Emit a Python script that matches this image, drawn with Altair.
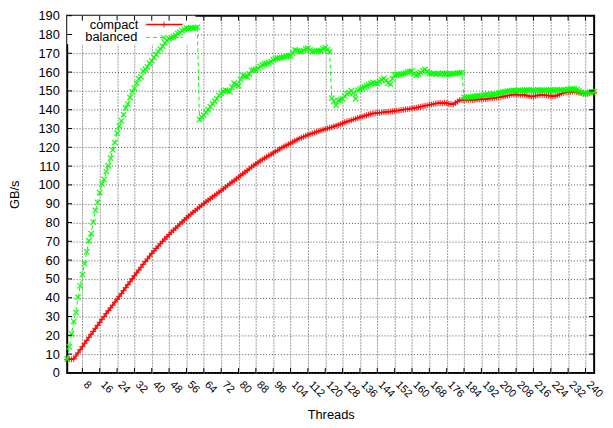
import altair as alt
import pandas as pd

# ---- data (GB/s per thread count, threads 1..244) ----
compact = [
    7.2, 7.3, 7.2, 7.4, 9.0, 10.7, 12.4, 14.0, 15.7, 17.3,
    18.9, 20.5, 22.1, 23.7, 25.3, 26.9, 28.5, 30.0, 31.6, 33.1,
    34.6, 36.1, 37.6, 39.1, 40.7, 42.2, 43.8, 45.4, 47.0, 48.5,
    50.1, 51.7, 53.2, 54.7, 56.2, 57.7, 59.2, 60.6, 62.1, 63.6,
    64.9, 66.2, 67.5, 68.7, 70.0, 71.2, 72.4, 73.6, 74.8, 75.9,
    77.0, 78.1, 79.2, 80.3, 81.4, 82.5, 83.5, 84.4, 85.4, 86.3,
    87.3, 88.2, 89.2, 90.1, 91.0, 91.9, 92.7, 93.6, 94.4, 95.3,
    96.1, 97.0, 97.9, 98.8, 99.7, 100.6, 101.5, 102.3, 103.2, 104.1,
    105.0, 105.9, 106.8, 107.7, 108.6, 109.5, 110.4, 111.2, 112.0, 112.8,
    113.5, 114.2, 114.9, 115.6, 116.3, 117.0, 117.7, 118.4, 119.1, 119.8,
    120.4, 121.0, 121.6, 122.2, 122.8, 123.4, 124.0, 124.6, 125.1, 125.6,
    126.1, 126.6, 127.0, 127.4, 127.8, 128.2, 128.6, 129.0, 129.3, 129.7,
    130.0, 130.4, 130.7, 131.1, 131.5, 131.9, 132.3, 132.8, 133.3, 133.7,
    134.0, 134.4, 134.8, 135.2, 135.6, 136.0, 136.3, 136.7, 137.0, 137.4,
    137.7, 138.0, 138.1, 138.3, 138.4, 138.5, 138.7, 138.8, 138.9, 139.0,
    139.2, 139.3, 139.5, 139.6, 139.8, 140.0, 140.2, 140.3, 140.5, 140.7,
    140.9, 141.1, 141.3, 141.6, 141.8, 142.1, 142.3, 142.6, 142.8, 143.1,
    143.3, 143.5, 143.6, 143.4, 143.7, 143.5, 143.2, 143.0, 142.8, 143.6,
    144.4, 145.1, 145.2, 145.0, 145.3, 145.1, 145.4, 145.2, 145.3, 145.5,
    145.4, 145.6, 145.7, 145.6, 145.8, 146.0, 146.1, 146.3, 146.4, 146.6,
    146.8, 147.0, 147.2, 147.5, 147.7, 148.0, 148.0, 148.1, 148.0, 147.9,
    148.0, 147.8, 147.5, 147.2, 147.0, 147.1, 147.4, 147.6, 147.8, 147.9,
    147.8, 147.7, 147.5, 147.3, 147.2, 147.2, 147.6, 148.1, 148.6, 149.0,
    149.2, 149.3, 149.5, 149.6, 149.6, 149.4, 149.1, 148.8, 148.5, 148.4,
    148.6, 148.9, 149.1, 149.2,
]
balanced = [
    7.4, 13.9, 20.8, 27.4, 32.1, 40.3, 46.3, 52.4, 58.1, 64.5,
    70.3, 74.1, 80.2, 86.4, 90.7, 95.9, 100.5, 102.9, 107.1, 110.2,
    114.2, 118.6, 122.5, 127.5, 131.3, 134.1, 137.4, 140.9, 143.0, 146.5,
    149.5, 151.5, 154.0, 156.4, 157.5, 160.5, 161.5, 162.8, 164.7, 166.0,
    167.8, 169.4, 171.0, 172.2, 173.8, 175.5, 176.7, 177.7, 178.3, 178.8,
    179.5, 180.4, 181.1, 182.0, 182.7, 183.4, 183.2, 183.6, 183.3, 183.5,
    183.8, 134.8, 136.0, 137.1, 138.6, 140.0, 141.6, 143.2, 144.5, 145.8,
    147.5, 148.7, 149.8, 150.4, 150.0, 149.6, 152.0, 154.1, 153.5, 152.7,
    156.0, 158.3, 157.8, 157.4, 159.0, 160.9, 161.0, 161.4, 162.0, 163.0,
    163.8, 164.3, 164.5, 164.9, 165.6, 166.5, 167.0, 167.4, 167.6, 167.8,
    168.0, 168.3, 168.6, 168.8, 170.2, 171.8, 171.4, 171.0, 170.9, 171.6,
    172.3, 172.6, 171.8, 170.9, 171.0, 171.2, 171.3, 171.6, 172.4, 173.0,
    172.0, 170.9, 146.1, 144.5, 142.3, 145.0, 145.4, 145.8, 147.2, 148.4,
    149.0, 150.1, 149.0, 145.8, 150.4, 151.0, 151.5, 152.0, 152.7, 153.3,
    153.8, 154.4, 154.0, 153.9, 155.0, 155.9, 156.7, 155.5, 154.2, 153.6,
    156.5, 158.4, 158.6, 158.8, 158.9, 159.1, 159.5, 160.0, 160.3, 160.5,
    159.2, 158.4, 158.9, 159.7, 160.8, 161.4, 160.2, 159.4, 159.1, 159.3,
    159.0, 159.2, 159.1, 159.4, 159.0, 159.2, 159.1, 159.0, 159.3, 159.1,
    159.4, 159.6, 159.7, 146.6, 146.4, 146.8, 146.7, 147.0, 147.1, 147.3,
    147.5, 147.4, 147.7, 147.9, 148.0, 147.8, 148.2, 148.3, 148.4, 148.8,
    149.1, 149.3, 149.6, 149.8, 150.0, 150.1, 150.2, 150.1, 150.3, 150.4,
    150.2, 150.3, 150.5, 150.4, 150.3, 150.4, 150.2, 150.5, 150.4, 150.3,
    150.4, 150.4, 150.2, 150.5, 150.3, 150.4, 150.6, 150.4, 150.4, 150.7,
    150.5, 150.8, 150.9, 151.0, 151.0, 150.6, 150.0, 149.3, 148.8, 148.4,
    148.9, 149.4, 149.6, 149.6,
]
threads = list(range(1, len(compact) + 1))
x_ticks = list(range(8, 241, 8))
y_ticks = list(range(0, 191, 10))

df = pd.DataFrame({"threads": threads, "compact": compact, "balanced": balanced})
df_xt = pd.DataFrame({"t": x_ticks})
df_yt = pd.DataFrame({"v": y_ticks})

W, H = 534, 362
FONT = "Liberation Sans"
RED = "#ff0000"
GREEN = "#00ff00"
PLUS = "M-1,0L1,0M0,-1L0,1"
CROSS = "M-1,-1L1,1M-1,1L1,-1"

xs = alt.Scale(domain=[1, 244], nice=False, zero=False)
ys = alt.Scale(domain=[0, 190], nice=False)

x_axis = alt.Axis(
    values=x_ticks, grid=True, gridColor="#9a9a9a", gridDash=[2, 1], gridWidth=1,
    ticks=False, domain=False, labelAngle=45, labelAlign="left",
    labelBaseline="alphabetic", labelPadding=12, labelFontSize=11, labelFont=FONT,
    labelColor="black", labelOverlap=False, labelFlush=False,
    title="Threads", titleFont=FONT, titleFontSize=13, titleFontWeight="normal",
    titleColor="black", titleX=W / 2, titleY=42, titleBaseline="middle",
)
y_axis = alt.Axis(
    values=y_ticks, grid=True, gridColor="#555555", gridDash=[1, 2], gridWidth=1,
    ticks=False, domain=False, labelPadding=8, labelFontSize=13, labelFont=FONT,
    labelColor="black", labelOverlap=False, labelFlush=False,
    title="GB/s", titleFont=FONT, titleFontSize=13, titleFontWeight="normal",
    titleColor="black", titleX=-53, titleY=H / 2, titleAngle=-90,
    titleAlign="center", titleBaseline="middle",
)


def X(field):
    return alt.X(field, scale=xs, axis=x_axis)


def Y(field):
    return alt.Y(field, scale=ys, axis=y_axis)


base = alt.Chart(df)

# white key box (gnuplot key covers the grid)
key_box = alt.Chart(df.head(1)).mark_rect(color="white").encode(
    x=alt.value(0), x2=alt.value(130), y=alt.value(0), y2=alt.value(29)
)

compact_line = base.mark_line(color=RED, strokeWidth=1.5).encode(
    x=X("threads:Q"), y=Y("compact:Q"))
compact_pts = base.mark_point(shape=PLUS, size=36, filled=False, color=RED,
                              strokeWidth=1.2, opacity=0.8).encode(
    x=X("threads:Q"), y=Y("compact:Q"))
balanced_line = base.mark_line(color=GREEN, strokeWidth=1, strokeDash=[4, 3]).encode(
    x=X("threads:Q"), y=Y("balanced:Q"))
balanced_pts = base.mark_point(shape=CROSS, size=30, filled=False, color=GREEN,
                               strokeWidth=1.3, opacity=0.9).encode(
    x=X("threads:Q"), y=Y("balanced:Q"))

# inward tick marks on all four sides
tick_l = alt.Chart(df_yt).mark_rule(color="black", strokeWidth=1).encode(
    y=Y("v:Q"), x=alt.value(0), x2=alt.value(5))
tick_r = alt.Chart(df_yt).mark_rule(color="black", strokeWidth=1).encode(
    y=Y("v:Q"), x=alt.value(W - 5), x2=alt.value(W))
tick_b = alt.Chart(df_xt).mark_rule(color="black", strokeWidth=1).encode(
    x=X("t:Q"), y=alt.value(H - 5), y2=alt.value(H))
tick_t = alt.Chart(df_xt).mark_rule(color="black", strokeWidth=1).encode(
    x=X("t:Q"), y=alt.value(0), y2=alt.value(5))

# key entries
one = df.head(1)
key_c_txt = alt.Chart(one).mark_text(text="compact", align="right", baseline="middle",
                                     font=FONT, fontSize=13, color="black").encode(
    x=alt.value(72), y=alt.value(9))
key_b_txt = alt.Chart(one).mark_text(text="balanced", align="right", baseline="middle",
                                     font=FONT, fontSize=13, color="black").encode(
    x=alt.value(71), y=alt.value(22))
key_c_line = alt.Chart(one).mark_rule(color=RED, strokeWidth=1.5).encode(
    x=alt.value(80), x2=alt.value(117), y=alt.value(9))
key_b_line = alt.Chart(one).mark_rule(color=GREEN, strokeWidth=1, strokeDash=[4, 3]).encode(
    x=alt.value(80), x2=alt.value(117), y=alt.value(22))
key_c_pt = alt.Chart(one).mark_point(shape=PLUS, size=36, filled=False, color=RED, strokeWidth=1.2).encode(
    x=alt.value(98), y=alt.value(9))
key_b_pt = alt.Chart(one).mark_point(shape=CROSS, size=30, filled=False, color=GREEN, strokeWidth=1.3).encode(
    x=alt.value(98), y=alt.value(22))

chart = alt.layer(
    key_box,
    compact_line, compact_pts, balanced_line, balanced_pts,
    tick_l, tick_r, tick_b, tick_t,
    key_c_txt, key_b_txt, key_c_line, key_b_line, key_c_pt, key_b_pt,
).properties(
    width=W, height=H,
    autosize=alt.AutoSizeParams(type="none"),
    padding={"left": 60, "top": 5, "right": 11, "bottom": 50},
    background="white",
).configure_view(stroke="black", strokeWidth=2)

chart.save("out.html", embed_options={"renderer": "svg", "actions": False})
